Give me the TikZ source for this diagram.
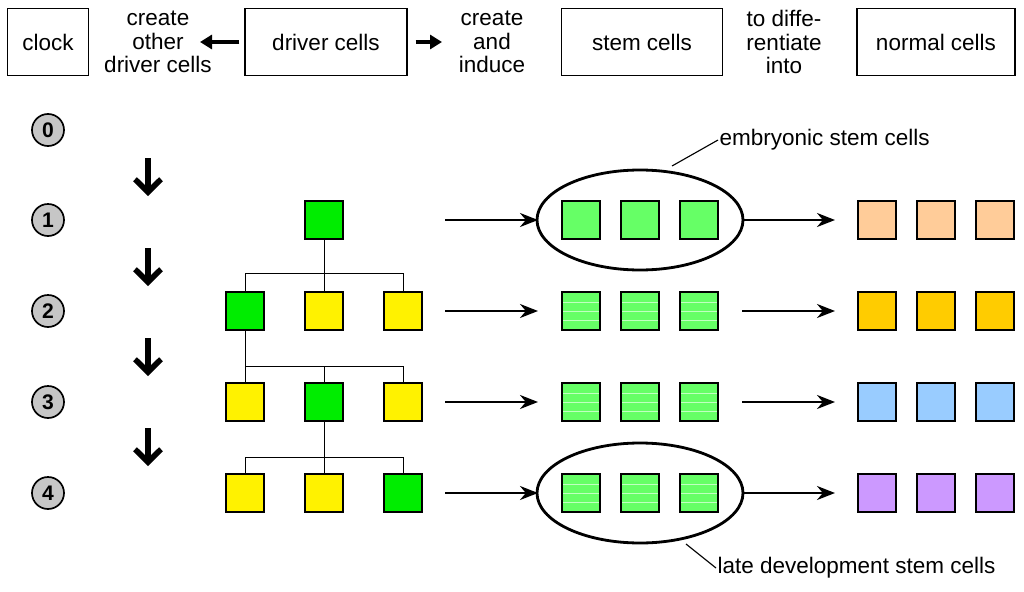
\documentclass[tikz,border=0pt]{standalone}
\usepackage{fontspec}
\setmainfont{Liberation Sans}
\usetikzlibrary{arrows.meta}
\begin{document}
\begin{tikzpicture}[x=0.025cm,y=-0.025cm,
  font=\fontsize{16}{16.5}\selectfont,
  box/.style={draw, thick, minimum height=1.68cm, inner sep=0pt},
  lbl/.style={align=center, inner sep=0pt},
  num/.style={circle, draw, very thick, fill=gray!45, minimum size=0.8cm, inner sep=0pt, font=\fontsize{15}{15}\selectfont\bfseries},
  cell/.style={draw, thick, minimum size=0.95cm, inner sep=0pt},
  drv/.style={cell, fill=green!93!black},
  yel/.style={cell, fill=yellow},
  stem/.style={cell, fill={rgb,255:red,102;green,255;blue,102}},
  striped/.style={stem, path picture={
      \foreach \k in {-0.22,0,0.22}
        \draw[white, opacity=0.6, line width=0.4pt] ([yshift=\k cm]path picture bounding box.west) -- ([yshift=\k cm]path picture bounding box.east);}},
  fat/.style={-{Triangle[length=3mm,width=3.5mm]}, line width=2.5pt},
  down/.style={-{Straight Barb[length=3.2mm,width=6.5mm,line width=4pt]}, line width=4pt},
  arr/.style={-{Stealth[length=4.5mm,width=3.5mm]}, line width=1.7pt},
  tree/.style={thin}
]
\useasboundingbox (0,0) rectangle (1024,591);
\definecolor{peach}{RGB}{255,204,153}
\definecolor{gold}{RGB}{255,204,0}
\definecolor{sky}{RGB}{153,204,255}
\definecolor{lilac}{RGB}{204,153,255}

% header
\node[box, minimum width=2.03cm] (clock) at (48,42) {clock};
\node[lbl] (tcreate) at (158,42) {create\\other\\driver cells};
\node[box, minimum width=4.05cm] (driver) at (326,42) {driver cells};
\node[lbl] (tinduce) at (492,42) {create\\and\\induce};
\node[box, minimum width=4.03cm] (stem) at (642,42) {stem cells};
\node[lbl] (tdiff) at (784,42) {to diffe-\\rentiate\\into};
\node[box, minimum width=3.95cm] (normal) at (936,42) {normal cells};
\coordinate (la) at (200,42); \coordinate (ra) at (442,42);
\draw[fat] (driver.west) ++(-5,0) -- (la);
\draw[fat] (driver.east) ++(8,0) -- (ra);

% clock steps
\foreach \i/\y in {0/130,1/220,2/311,3/402,4/493}
  \node[num] (n\i) at (48,\y) {\i};
\foreach \y in {158,248,338,428}
  \draw[down] (148,\y) -- (148,\y+38);

% driver cells tree
\node[drv] (r1b) at (324,220) {};
\node[drv] (r2a) at (245,311) {};
\node[yel] (r2b) at (324,311) {};
\node[yel] (r2c) at (403,311) {};
\node[yel] (r3a) at (245,402) {};
\node[drv] (r3b) at (324,402) {};
\node[yel] (r3c) at (403,402) {};
\node[yel] (r4a) at (245,493) {};
\node[yel] (r4b) at (324,493) {};
\node[drv] (r4c) at (403,493) {};
\draw[tree] (r1b.south) |- (324,273) (r2a.north) |- (r2c.north |- 0,273) -- (r2c.north) (r2b.north) -- (324,273);
\draw[tree] (r2a.south) -- (245,366) (r3a.north) |- (r3c.north |- 0,366) -- (r3c.north) (r3b.north) -- (324,366);
\draw[tree] (r3b.south) -- (324,457) (r4a.north) |- (r4c.north |- 0,457) -- (r4c.north) (r4b.north) -- (324,457);

% stem and normal cells
\foreach \r/\y/\c/\s in {1/220/peach/stem,2/311/gold/striped,3/402/sky/striped,4/493/lilac/striped}{
  \node[\s] (s\r a) at (581,\y) {};
  \node[\s] (s\r b) at (640,\y) {};
  \node[\s] (s\r c) at (699,\y) {};
  \node[cell, fill=\c] (m\r a) at (877,\y) {};
  \node[cell, fill=\c] (m\r b) at (936,\y) {};
  \node[cell, fill=\c] (m\r c) at (995,\y) {};
  \coordinate (p\r) at (445,\y);
  \coordinate (q\r) at (538,\y);
  \coordinate (u\r) at (742,\y);
  \coordinate (v\r) at (835,\y);
  \draw[arr] (p\r) -- (q\r);
  \draw[arr] (u\r) -- (v\r);
}

% ellipses and labels
\draw[line width=2pt] (640,220) ellipse [x radius=103, y radius=50];
\draw[line width=2pt] (640,493) ellipse [x radius=103, y radius=50];
\node[anchor=west, inner sep=1pt] (emb) at (718,140) {embryonic stem cells};
\node[anchor=west, inner sep=1pt] (late) at (716,568) {late development stem cells};
\coordinate (e1) at (672,166); \coordinate (e2) at (686,544);
\draw[thick] (e1) -- (emb.west);
\draw[thick] (e2) -- (late.west);
\end{tikzpicture}
\end{document}
